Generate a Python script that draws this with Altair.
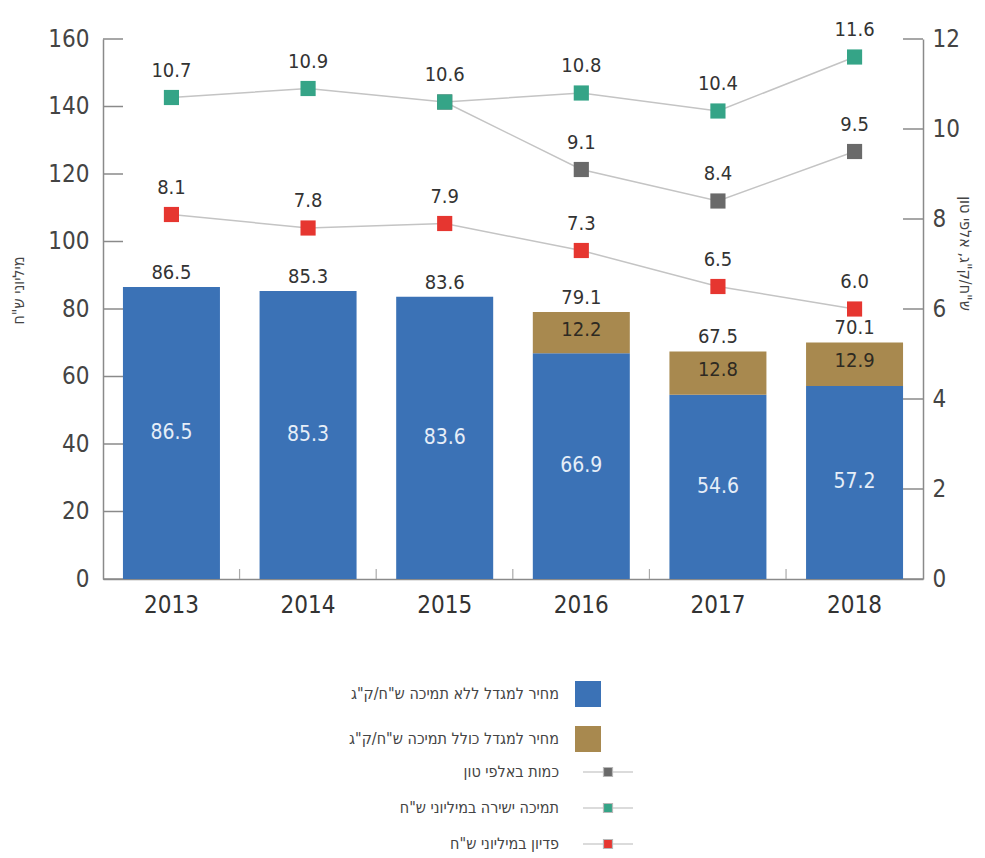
import altair as alt
import pandas as pd

years = ["2013", "2014", "2015", "2016", "2017", "2018"]
price_no_support = [86.5, 85.3, 83.6, 66.9, 54.6, 57.2]
price_support_add = [None, None, None, 12.2, 12.8, 12.9]
bar_totals = [86.5, 85.3, 83.6, 79.1, 67.5, 70.1]
quantity = [None, None, 10.6, 9.1, 8.4, 9.5]
quantity_labels = [None, None, None, "9.1", "8.4", "9.5"]
direct_support = [10.7, 10.9, 10.6, 10.8, 10.4, 11.6]
revenue = [8.1, 7.8, 7.9, 7.3, 6.5, 6.0]
left_ticks = [0, 20, 40, 60, 80, 100, 120, 140, 160]
right_ticks = [0, 2, 4, 6, 8, 10, 12]

S_BLUE = 'מחיר למגדל ללא תמיכה ש"ח/ק"ג'
S_BROWN = 'מחיר למגדל כולל תמיכה ש"ח/ק"ג'
S_QTY = 'כמות באלפי טון'
S_SUP = 'תמיכה ישירה במיליוני ש"ח'
S_REV = 'פדיון במיליוני ש"ח'
LEFT_TITLE = 'מיליוני ש"ח'
RIGHT_TITLE = 'ש"ח/ק"ג, אלפי טון'

BLUE, BROWN = "#3b72b6", "#a8894f"
GRAY, GREEN, RED = "#6a6a6a", "#35a487", "#e63630"
FONT = "Liberation Sans Narrow, DejaVu Sans Condensed, sans-serif"
AXC = "#8a8a8a"

# ---- bar data
bar_rows = []
for i, y in enumerate(years):
    b = price_no_support[i]
    bar_rows.append({"year": y, "series": S_BLUE, "start": 0, "end": b,
                     "mid": b / 2, "label": f"{b:.1f}"})
    if price_support_add[i] is not None:
        a = price_support_add[i]
        bar_rows.append({"year": y, "series": S_BROWN, "start": b, "end": b + a,
                         "mid": b + a / 2, "label": f"{a:.1f}"})
bars_df = pd.DataFrame(bar_rows)
totals_df = pd.DataFrame({"year": years, "total": bar_totals,
                          "label": [f"{t:.1f}" for t in bar_totals]})

# ---- line data
line_rows = []
for i, y in enumerate(years):
    if quantity[i] is not None:
        line_rows.append({"year": y, "series": S_QTY, "value": quantity[i],
                          "label": quantity_labels[i], "ord": 0})
for i, y in enumerate(years):
    line_rows.append({"year": y, "series": S_SUP, "value": direct_support[i],
                      "label": f"{direct_support[i]:.1f}", "ord": 1})
for i, y in enumerate(years):
    line_rows.append({"year": y, "series": S_REV, "value": revenue[i],
                      "label": f"{revenue[i]:.1f}", "ord": 2})
lines_df = pd.DataFrame(line_rows)

W, H = 820, 540

x_axis = alt.Axis(title=None, labelAngle=0, ticks=False, labelFontSize=24,
                  labelFont=FONT, labelColor="#333", labelPadding=14,
                  domainColor=AXC, domainWidth=1.5)
x_scale = alt.Scale(paddingInner=0.29, paddingOuter=0.146)
x_enc = alt.X("year:N", sort=years, scale=x_scale, axis=x_axis)

left_axis = alt.Axis(values=left_ticks, ticks=False, grid=False, domainColor=AXC,
                     domainWidth=1.5, labelFontSize=24, labelFont=FONT, labelColor="#444",
                     labelPadding=14, title=LEFT_TITLE, titleFontSize=16,
                     titleFont=FONT, titleFontWeight="normal", titleColor="#444",
                     titleX=-85, titleY=251, titleBaseline="middle")
left_scale = alt.Scale(domain=[0, 160], nice=False, zero=True)

right_axis = alt.Axis(values=right_ticks, orient="right", ticks=False, grid=False,
                      domainColor=AXC, domainWidth=1.5, labelFontSize=24, labelFont=FONT,
                      labelColor="#444", labelPadding=9, title=RIGHT_TITLE,
                      titleFontSize=16, titleFont=FONT, titleFontWeight="normal",
                      titleColor="#444", titleX=41, titleY=214, titleBaseline="middle")
right_scale = alt.Scale(domain=[0, 12], nice=False, zero=True)


def ly(field):
    return alt.Y(field, scale=left_scale, axis=left_axis)


def ry(field):
    return alt.Y(field, scale=right_scale, axis=right_axis)


bars = alt.Chart(bars_df).mark_bar(stroke=None).encode(
    x=x_enc,
    y=ly("start:Q"),
    y2="end:Q",
    fill=alt.Fill("series:N",
                  scale=alt.Scale(domain=[S_BLUE, S_BROWN], range=[BLUE, BROWN]),
                  legend=alt.Legend(title=None, orient="none", legendX=472, legendY=642,
                                    symbolType="square", symbolSize=676,
                                    symbolStrokeWidth=0, labelAlign="right",
                                    labelOffset={"expr": "-42"}, labelFontSize=16,
                                    labelFont=FONT, labelColor="#444", rowPadding=19,
                                    padding=0, labelLimit=500)),
)

inner_blue = alt.Chart(bars_df[bars_df.series == S_BLUE]).mark_text(
    fontSize=21, font=FONT, color="#e6eef8", baseline="middle").encode(
    x=x_enc, y=ly("mid:Q"), text="label:N")
inner_brown = alt.Chart(bars_df[bars_df.series == S_BROWN]).mark_text(
    fontSize=20, font=FONT, color="#2e2a22", baseline="middle", dy=-3).encode(
    x=x_enc, y=ly("mid:Q"), text="label:N")
totals = alt.Chart(totals_df).mark_text(
    fontSize=20, font=FONT, color="#333", baseline="alphabetic", dy=-8).encode(
    x=x_enc, y=ly("total:Q"), text="label:N")

left_tick_df = pd.DataFrame({"v": left_ticks})
left_ticks_layer = alt.Chart(left_tick_df).mark_rule(color=AXC, strokeWidth=1.5).encode(
    x=alt.value(0), x2=alt.value(20), y=ly("v:Q"))

gap_df = pd.DataFrame({"year": years[1:]})
gap_ticks = alt.Chart(gap_df).mark_rule(color="#aaaaaa", strokeWidth=1.2, xOffset=-20).encode(
    x=alt.X("year:N", sort=years, bandPosition=0, scale=x_scale, axis=x_axis),
    y=alt.value(H - 10), y2=alt.value(H))

left_group = alt.layer(left_ticks_layer, gap_ticks, bars, inner_blue, inner_brown, totals)

line = alt.Chart(lines_df).mark_line(color="#c4c4c4", strokeWidth=1.5).encode(
    x=x_enc, y=ry("value:Q"), detail="series:N", order="year:N")

points = alt.Chart(lines_df).mark_point(shape="square", filled=True, size=230,
                                        opacity=1, strokeWidth=0).encode(
    x=x_enc, y=ry("value:Q"),
    order="ord:Q",
    fill=alt.Fill("series:N",
                  scale=alt.Scale(domain=[S_QTY, S_SUP, S_REV], range=[GRAY, GREEN, RED]),
                  legend=alt.Legend(title=None, orient="none", legendX=494, legendY=722,
                                    symbolType="M-2.5,0H-0.45M0.45,0H2.5M-0.45,-0.45H0.45V0.45H-0.45Z",
                                    symbolSize=400, symbolStrokeColor="#b8b8b8",
                                    symbolStrokeWidth=1.2, labelAlign="right",
                                    labelOffset={"expr": "-60"}, labelFontSize=16,
                                    labelFont=FONT, labelColor="#444", rowPadding=17,
                                    padding=0, labelLimit=500)),
)

point_labels = alt.Chart(lines_df).transform_filter("datum.label != null").mark_text(
    fontSize=20, font=FONT, color="#333", baseline="middle", dy=-27).encode(
    x=x_enc, y=ry("value:Q"), text="label:N")

right_tick_df = pd.DataFrame({"v": right_ticks})
right_ticks_layer = alt.Chart(right_tick_df).mark_rule(color=AXC, strokeWidth=1.5).encode(
    x=alt.value(W - 20), x2=alt.value(W), y=ry("v:Q"))

right_group = alt.layer(right_ticks_layer, line, points, point_labels)

chart = alt.layer(left_group, right_group).resolve_scale(
    y="independent", fill="independent"
).properties(
    width=W, height=H,
    autosize=alt.AutoSizeParams(type="none"),
    padding={"left": 95, "top": 31, "right": 50, "bottom": 276},
    background="white",
).configure_view(stroke=None)

chart.save("out.html", embed_options={"renderer": "svg", "actions": False})
